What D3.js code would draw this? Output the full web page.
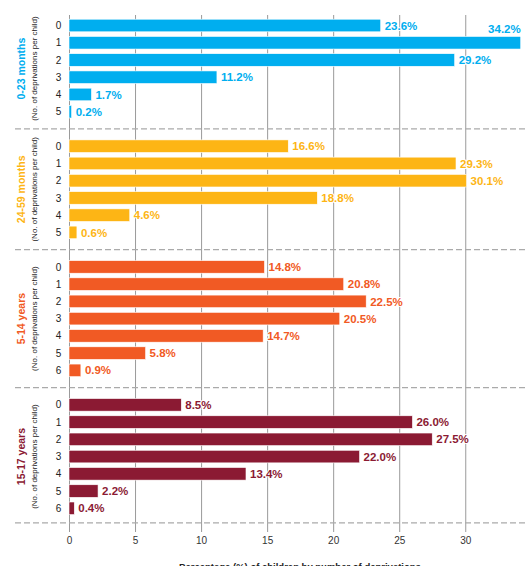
<!DOCTYPE html>
<html>
<head>
<meta charset="utf-8">
<script src="https://cdn.jsdelivr.net/npm/d3@7"></script>
<style>
  body { margin: 0; background: #fff; }
  svg { display: block; font-family: "Liberation Sans", Arial, sans-serif; }
  .tick text { fill: #333; font-size: 10px; }
</style>
</head>
<body>
<div id="chart"></div>
<script>
// data
var groupNames = ["0-23 months", "24-59 months", "5-14 years", "15-17 years"];
var groupColors = ["#00aeef", "#fdb515", "#f15a24", "#8b1a33"];
var values0to23 = [23.6, 34.2, 29.2, 11.2, 1.7, 0.2];
var values24to59 = [16.6, 29.3, 30.1, 18.8, 4.6, 0.6];
var values5to14 = [14.8, 20.8, 22.5, 20.5, 14.7, 5.8, 0.9];
var values15to17 = [8.5, 26.0, 27.5, 22.0, 13.4, 2.2, 0.4];
var xTicks = [0, 5, 10, 15, 20, 25, 30, 35];
var subLabel = "(No. of deprivations per child)";
var axisTitle = "Percentage (%) of children by number of deprivations";

var allValues = [values0to23, values24to59, values5to14, values15to17];

var width = 526, height = 566;

var svg = d3.select("#chart").append("svg")
  .attr("width", width)
  .attr("height", height);

// one slot per bar, plus one slot for each dashed separator
var rows = [];
var separators = [];
var groupInfo = [];
var slot = 0;
allValues.forEach((vals, g) => {
  var first = slot;
  vals.forEach((v, i) => {
    rows.push({group: g, n: i, value: v, slot: slot});
    slot++;
  });
  groupInfo.push({group: g, first: first, last: slot - 1});
  separators.push(slot);
  slot++;
});
var lastSlot = slot - 2;
separators[separators.length - 1] = lastSlot + 0.85;

var xScale = d3.scaleLinear()
  .domain([0, 35])
  .range([69, 531.3]);

var yScale = d3.scaleLinear()
  .domain([0, lastSlot])
  .range([25.5, 508.3]);

var barH = 12.6;

// gridlines + tick labels
var axisY = 532;
var xAxis = d3.axisBottom(xScale)
  .tickValues(xTicks)
  .tickSizeInner(-(axisY - 15))
  .tickSizeOuter(0)
  .tickPadding(5)
  .tickFormat(d3.format("d"));

var gAxis = svg.append("g")
  .attr("transform", "translate(0," + axisY + ")")
  .call(xAxis);
gAxis.select(".domain").remove();
gAxis.selectAll(".tick line").attr("stroke", "#9a9a9a").attr("stroke-width", 1);

// dashed separators
svg.selectAll(".sep")
  .data(separators)
  .enter().append("line")
  .attr("class", "sep")
  .attr("x1", 15)
  .attr("x2", width)
  .attr("y1", (d) => yScale(d))
  .attr("y2", (d) => yScale(d))
  .attr("stroke", "#aaa")
  .attr("stroke-width", 1.2)
  .attr("stroke-dasharray", "6,3");

// bars
svg.selectAll(".bar")
  .data(rows)
  .enter().append("rect")
  .attr("class", "bar")
  .attr("x", xScale(0))
  .attr("y", (d) => yScale(d.slot) - barH / 2)
  .attr("width", (d) => xScale(d.value) - xScale(0))
  .attr("height", barH)
  .attr("fill", (d) => groupColors[d.group])
  .attr("stroke", "#fff")
  .attr("stroke-width", 0.6);

// value labels
svg.selectAll(".val")
  .data(rows)
  .enter().append("text")
  .attr("class", "val")
  .each(function(d) {
    var t = d3.select(this);
    var xEnd = xScale(d.value);
    if (xEnd + 40 > width) {
      t.attr("x", xEnd).attr("y", yScale(d.slot) - 14).attr("text-anchor", "end");
    } else {
      t.attr("x", xEnd + 4).attr("y", yScale(d.slot)).attr("text-anchor", "start");
    }
  })
  .attr("dy", "0.36em")
  .attr("fill", (d) => groupColors[d.group])
  .attr("stroke", "#fff")
  .attr("stroke-width", 2)
  .attr("paint-order", "stroke")
  .style("font-size", "11.5px")
  .style("font-weight", "bold")
  .text((d) => d.value.toFixed(1) + "%");

// row labels (number of deprivations)
svg.selectAll(".rowlab")
  .data(rows)
  .enter().append("text")
  .attr("class", "rowlab")
  .attr("x", 58.5)
  .attr("y", (d) => yScale(d.slot))
  .attr("dy", "0.36em")
  .attr("text-anchor", "middle")
  .attr("fill", "#222")
  .style("font-size", "10px")
  .text((d) => d.n);

// rotated group labels
groupInfo.forEach((gi) => {
  var cy = (yScale(gi.first) + yScale(gi.last)) / 2;
  svg.append("text")
    .attr("transform", "translate(21," + cy + ") rotate(-90)")
    .attr("text-anchor", "middle")
    .attr("dy", "0.36em")
    .attr("fill", groupColors[gi.group])
    .style("font-size", "10.5px")
    .style("font-weight", "bold")
    .text(groupNames[gi.group]);
  svg.append("text")
    .attr("transform", "translate(34.5," + cy + ") rotate(-90)")
    .attr("text-anchor", "middle")
    .attr("dy", "0.36em")
    .attr("fill", "#222")
    .style("font-size", "8px")
    .text(subLabel);
});

// axis title
svg.append("text")
  .attr("x", 300)
  .attr("y", 570)
  .attr("text-anchor", "middle")
  .attr("fill", "#222")
  .style("font-size", "9.5px")
  .style("font-weight", "bold")
  .text(axisTitle);
</script>
</body>
</html>
